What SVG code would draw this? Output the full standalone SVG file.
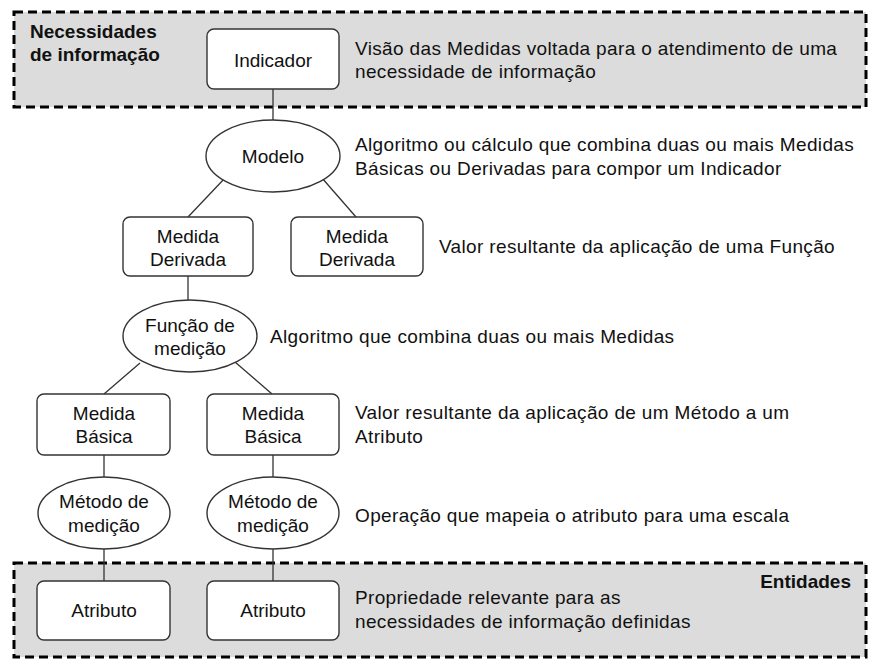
<svg xmlns="http://www.w3.org/2000/svg" width="875" height="667" viewBox="0 0 875 667">
<style>
.zone{fill:#dcdcdc;stroke:#000;stroke-width:3;stroke-dasharray:9 5}
.box{fill:#fff;stroke:#333;stroke-width:1.4}
.lbl{font-family:"Liberation Sans",Arial,sans-serif;font-size:19px;fill:#111;text-anchor:middle}
.desc{font-family:"Liberation Sans",Arial,sans-serif;font-size:19px;fill:#111;letter-spacing:0.35px}
.bold{font-family:"Liberation Sans",Arial,sans-serif;font-size:19px;font-weight:bold;fill:#111}
.con{stroke:#333;stroke-width:1.3;fill:none}
</style>
<g id="zones">
<rect class="zone" x="14" y="12" width="852" height="95"/>
<rect class="zone" x="14" y="563" width="852" height="94"/>
<text class="bold" x="30" y="38">Necessidades</text>
<text class="bold" x="30" y="61">de informação</text>
<text class="bold" x="851" y="588" text-anchor="end">Entidades</text>
</g>
<g id="connectors">
<line class="con" x1="273" y1="89" x2="273" y2="120"/>
<line class="con" x1="225" y1="178" x2="188" y2="217"/>
<line class="con" x1="322" y1="178" x2="356" y2="217"/>
<line class="con" x1="188" y1="276" x2="188" y2="300"/>
<line class="con" x1="140" y1="363" x2="104" y2="394"/>
<line class="con" x1="235" y1="362" x2="272" y2="394"/>
<line class="con" x1="104" y1="455" x2="104" y2="477"/>
<line class="con" x1="273" y1="455" x2="273" y2="477"/>
<line class="con" x1="104" y1="549" x2="104" y2="581"/>
<line class="con" x1="273" y1="549" x2="273" y2="581"/>
</g>
<g id="indicador">
<rect class="box" x="207" y="29" width="132" height="60" rx="7"/>
<text class="lbl" x="273" y="67">Indicador</text>
</g>
<g id="modelo">
<ellipse class="box" cx="273" cy="156" rx="67" ry="36"/>
<text class="lbl" x="273" y="163">Modelo</text>
</g>
<g id="medida-derivada-1">
<rect class="box" x="123" y="217" width="130" height="59" rx="7"/>
<text class="lbl" x="188" y="243">Medida</text>
<text class="lbl" x="188" y="266">Derivada</text>
</g>
<g id="medida-derivada-2">
<rect class="box" x="291" y="217" width="132" height="59" rx="7"/>
<text class="lbl" x="357" y="243">Medida</text>
<text class="lbl" x="357" y="266">Derivada</text>
</g>
<g id="funcao-medicao">
<ellipse class="box" cx="190" cy="336" rx="67" ry="36"/>
<text class="lbl" x="190" y="332">Função de</text>
<text class="lbl" x="190" y="355">medição</text>
</g>
<g id="medida-basica-1">
<rect class="box" x="37" y="394" width="133" height="61" rx="7"/>
<text class="lbl" x="104" y="420">Medida</text>
<text class="lbl" x="104" y="443">Básica</text>
</g>
<g id="medida-basica-2">
<rect class="box" x="207" y="394" width="132" height="61" rx="7"/>
<text class="lbl" x="273" y="420">Medida</text>
<text class="lbl" x="273" y="443">Básica</text>
</g>
<g id="metodo-1">
<ellipse class="box" cx="104" cy="513" rx="66" ry="36"/>
<text class="lbl" x="104" y="508">Método de</text>
<text class="lbl" x="104" y="532">medição</text>
</g>
<g id="metodo-2">
<ellipse class="box" cx="273" cy="513" rx="66" ry="36"/>
<text class="lbl" x="273" y="508">Método de</text>
<text class="lbl" x="273" y="532">medição</text>
</g>
<g id="atributo-1">
<rect class="box" x="37" y="581" width="133" height="59" rx="7"/>
<text class="lbl" x="104" y="617">Atributo</text>
</g>
<g id="atributo-2">
<rect class="box" x="207" y="581" width="132" height="59" rx="7"/>
<text class="lbl" x="273" y="617">Atributo</text>
</g>
<g id="descriptions">
<text class="desc" x="355" y="55">Visão das Medidas voltada para o atendimento de uma</text>
<text class="desc" x="355" y="78">necessidade de informação</text>
<text class="desc" x="355" y="151">Algoritmo ou cálculo que combina duas ou mais Medidas</text>
<text class="desc" x="355" y="175">Básicas ou Derivadas para compor um Indicador</text>
<text class="desc" x="439" y="253">Valor resultante da aplicação de uma Função</text>
<text class="desc" x="270" y="343">Algoritmo que combina duas ou mais Medidas</text>
<text class="desc" x="355" y="419">Valor resultante da aplicação de um Método a um</text>
<text class="desc" x="355" y="443">Atributo</text>
<text class="desc" x="355" y="522">Operação que mapeia o atributo para uma escala</text>
<text class="desc" x="355" y="604">Propriedade relevante para as</text>
<text class="desc" x="355" y="628">necessidades de informação definidas</text>
</g>
</svg>
